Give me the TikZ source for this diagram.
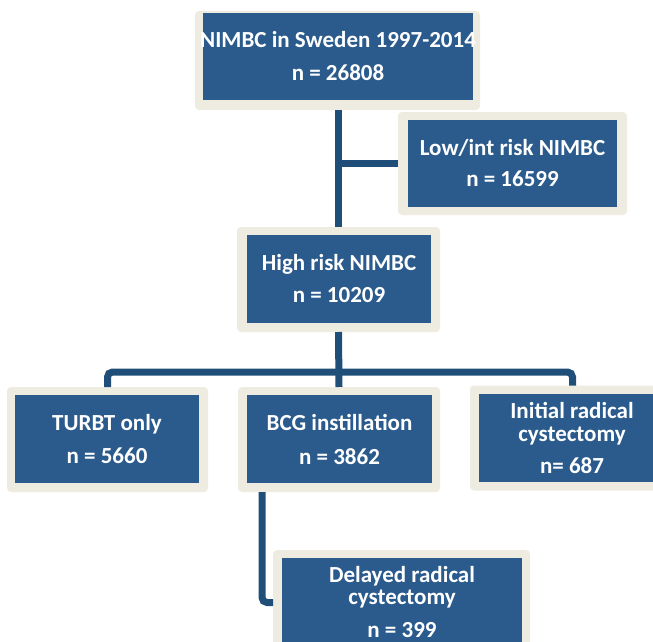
\documentclass[tikz,border=0pt]{standalone}
\usepackage{fontspec}
\setmainfont{Carlito}
\definecolor{boxblue}{HTML}{2A5B8C}
\definecolor{lineblue}{HTML}{1F4E79}
\definecolor{cream}{HTML}{EEEBE1}
\tikzset{
  x=1pt, y=-1pt,
  frame/.style={fill=cream, rounded corners=4pt, inner sep=0pt, outer sep=0pt},
  bluebox/.style={fill=boxblue, text=white, inner sep=0pt, outer sep=0pt, align=center,
    font=\fontsize{23}{23}\selectfont\bfseries},
  conn/.style={draw=lineblue, line width=7pt},
}
\begin{document}
\begin{tikzpicture}
\useasboundingbox (0,0) rectangle (653,642);
% frames
\node[frame, minimum width=285pt, minimum height=99pt] (topF) at (337.5,60.5) {};
\node[frame, minimum width=229pt, minimum height=103pt] (lowF) at (512.5,163.5) {};
\node[frame, minimum width=203pt, minimum height=105pt] (hiF) at (338.5,279.5) {};
\node[frame, minimum width=201pt, minimum height=105pt] (turF) at (107.5,439.5) {};
\node[frame, minimum width=202pt, minimum height=105pt] (bcgF) at (339,439.5) {};
\node[frame, minimum width=205pt, minimum height=105pt] (iniF) at (572.5,438) {};
\node[frame, minimum width=257pt, minimum height=105pt] (delF) at (401.5,602.5) {};
% connectors
\coordinate (bcgL) at ([xshift=-77pt]bcgF.south);
\draw[conn] (hiF.north) -- (hiF.north |- topF.south);
\draw[conn] (lowF.west) -- (lowF.west -| hiF.north);
\draw[conn] (hiF.south) -- (bcgF.north);
\draw[conn, rounded corners=5pt] (turF.north) |- ([yshift=15pt]bcgF.north) -| (iniF.north);
\draw[conn, rounded corners=5pt] (bcgL) |- (delF.west);
% boxes
\node[bluebox, minimum width=270pt, minimum height=87pt] (top) at (338,56.5)
  {\makebox[0pt][c]{NIMBC in Sweden 1997-2014}\\[10pt] n = 26808};
\node[bluebox, minimum width=209pt, minimum height=87pt] (low) at (512.5,163.5)
  {Low/int risk NIMBC\\[8pt] n = 16599};
\node[bluebox, minimum width=184pt, minimum height=88pt] (hi) at (339,279)
  {High risk NIMBC\\[9pt] n = 10209};
\node[bluebox, minimum width=184pt, minimum height=88pt] (tur) at (107,439)
  {TURBT only\\[10pt] n = 5660};
\node[bluebox, minimum width=185pt, minimum height=88pt] (bcg) at (339.5,439)
  {BCG instillation\\[11pt] n = 3862};
\node[bluebox, minimum width=186pt, minimum height=88pt] (ini) at (572,438)
  {Initial radical\\ cystectomy\\[9pt] n= 687};
\node[bluebox, minimum width=240pt, minimum height=88pt] (del) at (402,602)
  {Delayed radical\\[-1pt] cystectomy\\[10pt] n = 399};
\end{tikzpicture}
\end{document}
